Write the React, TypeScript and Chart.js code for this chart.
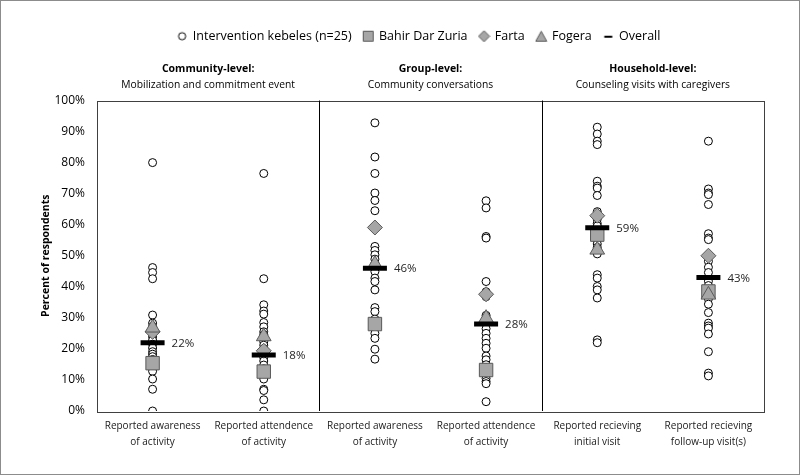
import { useEffect, useRef } from "react";
import { Chart, registerables } from "chart.js";

Chart.register(...registerables);

const FONT = "'Open Sans', 'Noto Sans', sans-serif";

const categories: string[][] = [
  ["Reported awareness", "of activity"],
  ["Reported attendence", "of activity"],
  ["Reported awareness", "of activity"],
  ["Reported attendence", "of activity"],
  ["Reported recieving", "initial visit"],
  ["Reported recieving", "follow-up visit(s)"],
];
const groupTitles = ["Community-level:", "Group-level:", "Household-level:"];
const groupSubtitles = [
  "Mobilization and commitment event",
  "Community conversations",
  "Counseling visits with caregivers",
];

const kebelesCol1 = [80, 46.2, 44.6, 42.6, 30.9, 28.3, 27.2, 26.5, 25.6, 24.8, 23.9, 22.8, 21.5, 20.3, 19.1, 18.3, 17.5, 16.6, 15.8, 14.9, 13.8, 12.8, 10.3, 7, 0];
const kebelesCol2 = [76.5, 42.6, 34.2, 32.2, 31.2, 28.5, 27.1, 25.5, 24.6, 23.5, 22.3, 21.2, 20.1, 19.4, 18.6, 17.2, 16.1, 14.8, 13.6, 12.1, 10.3, 7, 6.6, 3.6, 0];
const kebelesCol3 = [92.8, 81.8, 76.5, 70.2, 67.8, 64.5, 53, 51.7, 50.3, 48.9, 47.5, 46.2, 44.9, 42.8, 41.7, 39, 33.3, 32, 29.6, 28.2, 26.8, 25, 23.4, 19.9, 16.7];
const kebelesCol4 = [67.7, 65.4, 56.2, 55.7, 41.7, 38.4, 36.8, 30.8, 29.2, 28.1, 26.5, 25, 23.4, 21.8, 20.2, 17.7, 16.5, 14.9, 13.9, 12.6, 11.8, 10.5, 9.5, 8.8, 3];
const kebelesCol5 = [91.4, 89.2, 86.9, 85.8, 74, 72.4, 71.8, 69.4, 64.2, 61.8, 60.4, 59.6, 57.9, 56.2, 55.1, 53.8, 52.7, 50.6, 43.9, 42.8, 40.1, 39, 36.4, 22.9, 22];
const kebelesCol6 = [86.9, 71.5, 70.2, 69.7, 66.5, 57.1, 55.7, 55.2, 48.2, 46.3, 44.6, 41.8, 40.4, 39.2, 37.9, 36.1, 34.4, 31.7, 28.3, 27.4, 26.7, 24.8, 19.1, 12.2, 11.3];
const kebeles = [kebelesCol1, kebelesCol2, kebelesCol3, kebelesCol4, kebelesCol5, kebelesCol6];

const bahirDarZuria = [15.4, 12.7, 28, 13.2, 56.8, 38.5];
const farta = [25.5, 19.4, 59.1, 37.6, 62.9, 50];
const fogera = [26.8, 24, 47.3, 29.9, 51.9, 37.4];
const overall = [22, 18, 46, 28, 59, 43];
const overallLabels = ["22%", "18%", "46%", "28%", "59%", "43%"];

const yTicks = [0, 10, 20, 30, 40, 50, 60, 70, 80, 90, 100];

const MARKER_FILL = "#a6a6a6";
const MARKER_BORDER = "#595959";

function legendIcon(kind: string): HTMLCanvasElement {
  const c = document.createElement("canvas");
  c.width = 13;
  c.height = 13;
  const g = c.getContext("2d")!;
  g.lineWidth = 1;
  g.strokeStyle = kind === "circle" || kind === "line" ? "#000000" : MARKER_BORDER;
  g.fillStyle = kind === "circle" ? "#ffffff" : MARKER_FILL;
  g.beginPath();
  if (kind === "circle") {
    g.arc(6.5, 6.5, 3.6, 0, Math.PI * 2);
  } else if (kind === "rect") {
    g.rect(1.5, 1.5, 10, 10);
  } else if (kind === "rectRot") {
    g.moveTo(6.5, 1);
    g.lineTo(12, 6.5);
    g.lineTo(6.5, 12);
    g.lineTo(1, 6.5);
    g.closePath();
  } else if (kind === "triangle") {
    g.moveTo(6.5, 1.5);
    g.lineTo(12, 11.5);
    g.lineTo(1, 11.5);
    g.closePath();
  }
  if (kind === "line") {
    g.fillStyle = "#000000";
    g.fillRect(2.5, 6, 8, 2);
  } else {
    g.fill();
    g.stroke();
  }
  return c;
}

const decorPlugin = {
  id: "decor",
  beforeInit(chart: any) {
    const legend = chart.legend;
    if (legend) {
      const origFit = legend.fit;
      legend.fit = function () {
        origFit.call(this);
        this.height += 48;
      };
    }
  },
  afterLayout(chart: any) {
    const legend = chart.legend;
    if (legend) {
      legend.left += 17;
      legend.right += 17;
    }
  },
  beforeDatasetsDraw(chart: any) {
    const { ctx, chartArea } = chart;
    const xs = chart.scales.x;
    ctx.save();
    ctx.strokeStyle = "#404040";
    ctx.lineWidth = 1;
    ctx.strokeRect(
      Math.round(chartArea.left) + 0.5,
      Math.round(chartArea.top) + 0.5,
      Math.round(chartArea.right - chartArea.left),
      Math.round(chartArea.bottom - chartArea.top)
    );
    ctx.strokeStyle = "#000000";
    [1.5, 3.5].forEach((v) => {
      const px = Math.round(xs.getPixelForValue(v)) + 0.5;
      ctx.beginPath();
      ctx.moveTo(px, chartArea.top);
      ctx.lineTo(px, chartArea.bottom);
      ctx.stroke();
    });
    ctx.restore();
  },
  afterDraw(chart: any) {
    const { ctx, chartArea, width, height } = chart;
    const xs = chart.scales.x;
    const ys = chart.scales.y;
    ctx.save();
    ctx.strokeStyle = "#8c8c8c";
    ctx.lineWidth = 1;
    ctx.strokeRect(0.5, 0.5, width - 1, height - 1);
    ctx.fillStyle = "#000000";
    ctx.textAlign = "center";
    ctx.textBaseline = "middle";
    groupTitles.forEach((t, i) => {
      const cx = xs.getPixelForValue(i * 2 + 0.5);
      ctx.font = `bold 10.5px ${FONT}`;
      ctx.fillText(t, cx, chartArea.top - 31);
      ctx.font = `10.3px ${FONT}`;
      ctx.fillText(groupSubtitles[i], cx, chartArea.top - 15);
    });
    ctx.textAlign = "left";
    ctx.font = `11.5px ${FONT}`;
    ctx.fillStyle = "#262626";
    overall.forEach((v, i) => {
      const px = xs.getPixelForValue(i);
      const py = ys.getPixelForValue(v);
      ctx.fillText(overallLabels[i], px + 19, py + 1);
    });
    ctx.restore();
  },
};

export default function App() {
  const canvasRef = useRef<HTMLCanvasElement | null>(null);

  useEffect(() => {
    if (!canvasRef.current) return;
    const toPoints = (vals: number[]) => vals.map((v, i) => ({ x: i, y: v }));
    const kebelePoints: { x: number; y: number }[] = [];
    kebeles.forEach((col, i) => col.forEach((v) => kebelePoints.push({ x: i, y: v })));

    const chart = new Chart(canvasRef.current, {
      type: "scatter",
      data: {
        datasets: [
          {
            label: "Intervention kebeles (n=25)",
            data: kebelePoints,
            pointStyle: "circle",
            pointRadius: 4,
            pointBackgroundColor: "#ffffff",
            pointBorderColor: "#000000",
            pointBorderWidth: 1,
            backgroundColor: "#ffffff",
            borderColor: "#000000",
            order: 5,
          },
          {
            label: "Bahir Dar Zuria",
            data: toPoints(bahirDarZuria),
            pointStyle: "rect",
            pointRadius: 9.5,
            pointBackgroundColor: MARKER_FILL,
            pointBorderColor: MARKER_BORDER,
            pointBorderWidth: 1,
            backgroundColor: MARKER_FILL,
            borderColor: MARKER_BORDER,
            order: 4,
          },
          {
            label: "Farta",
            data: toPoints(farta),
            pointStyle: "rectRot",
            pointRadius: 7.5,
            pointBackgroundColor: MARKER_FILL,
            pointBorderColor: MARKER_BORDER,
            pointBorderWidth: 1,
            backgroundColor: MARKER_FILL,
            borderColor: MARKER_BORDER,
            order: 3,
          },
          {
            label: "Fogera",
            data: toPoints(fogera),
            pointStyle: "triangle",
            pointRadius: 8.5,
            pointBackgroundColor: MARKER_FILL,
            pointBorderColor: MARKER_BORDER,
            pointBorderWidth: 1,
            backgroundColor: MARKER_FILL,
            borderColor: MARKER_BORDER,
            order: 2,
          },
          {
            label: "Overall",
            data: toPoints(overall),
            pointStyle: "line",
            pointRadius: 12,
            pointBorderColor: "#000000",
            pointBorderWidth: 5,
            borderColor: "#000000",
            backgroundColor: "#000000",
            order: 1,
          },
        ],
      },
      options: {
        animation: false,
        responsive: false,
        maintainAspectRatio: false,
        layout: { padding: { top: 18, left: 40, right: 36, bottom: 0 } },
        plugins: {
          legend: {
            display: true,
            position: "top",
            sort: (a: any, b: any) => a.datasetIndex - b.datasetIndex,
            labels: {
              usePointStyle: true,
              boxWidth: 9,
              boxHeight: 9,
              padding: 12,
              color: "#000000",
              font: { family: FONT, size: 12.5 },
              generateLabels: (chart: any) =>
                chart.data.datasets.map((ds: any, i: number) => ({
                  text: ds.label,
                  datasetIndex: i,
                  pointStyle: legendIcon(ds.pointStyle),
                  fillStyle: ds.pointStyle === "circle" ? "#ffffff" : ds.pointBackgroundColor || "#000",
                  strokeStyle: "#000000",
                  lineWidth: 1,
                  hidden: false,
                  fontColor: "#000000",
                })),
            },
          },
          tooltip: { enabled: false },
        },
        scales: {
          x: {
            type: "linear",
            min: -0.5,
            max: 5.5,
            afterBuildTicks: (axis: any) => {
              axis.ticks = [0, 1, 2, 3, 4, 5].map((v) => ({ value: v }));
            },
            afterFit: (axis: any) => {
              axis.height = 64;
            },
            grid: { display: false, drawTicks: false },
            border: { display: false },
            ticks: {
              autoSkip: false,
              maxRotation: 0,
              padding: 7,
              color: "#1a1a1a",
              font: { family: FONT, size: 10, lineHeight: 1.6 },
              callback: (v: any) => categories[Math.round(Number(v))] ?? "",
            },
          },
          y: {
            type: "linear",
            min: 0,
            max: 100,
            afterBuildTicks: (axis: any) => {
              axis.ticks = yTicks.map((v) => ({ value: v }));
            },
            afterFit: (axis: any) => {
              axis.width = 57;
            },
            grid: { display: false, drawTicks: false },
            border: { display: false },
            title: {
              display: true,
              text: "Percent of respondents",
              color: "#000000",
              font: { family: FONT, size: 10.5, weight: "bold" },
              padding: { top: 0, bottom: 0 },
            },
            ticks: {
              padding: 12,
              color: "#000000",
              font: { family: FONT, size: 12 },
              callback: (v: any) => `${v}%`,
            },
          },
        },
      },
      plugins: [decorPlugin],
    } as any);

    return () => chart.destroy();
  }, []);

  return (
    <div style={{ position: "fixed", left: 0, top: 0, width: 800, height: 475, background: "#ffffff" }}>
      <canvas ref={canvasRef} width={800} height={475} style={{ width: 800, height: 475, display: "block" }} />
    </div>
  );
}
